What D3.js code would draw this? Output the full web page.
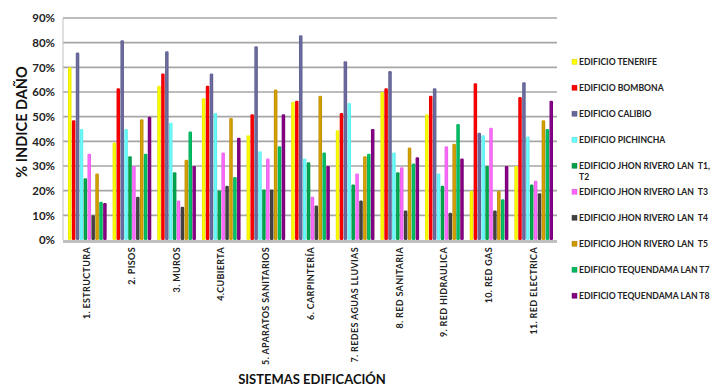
<!DOCTYPE html>
<html>
<head>
<meta charset="utf-8">
<script src="https://cdn.jsdelivr.net/npm/d3@7"></script>
<style>
  html, body { margin: 0; padding: 0; background: #fff; }
  svg { display: block; font-family: Lato, "Open Sans", sans-serif; font-weight: 700; }
</style>
</head>
<body>
<svg id="chart" width="722" height="387"></svg>
<script>
// Building systems evaluated
const categories = [
  "1. ESTRUCTURA", "2. PISOS", "3. MUROS", "4.CUBIERTA", "5. APARATOS SANITARIOS",
  "6. CARPINTERÍA", "7. REDES AGUAS LLUVIAS", "8. RED SANITARIA", "9. RED HIDRAULICA",
  "10. RED GAS", "11. RED ELECTRICA"
];

// Buildings (legend entries)
const seriesNames = [
  "EDIFICIO TENERIFE", "EDIFICIO BOMBONA", "EDIFICIO CALIBIO", "EDIFICIO PICHINCHA",
  "EDIFICIO JHON RIVERO LAN  T1, T2", "EDIFICIO JHON RIVERO LAN  T3",
  "EDIFICIO JHON RIVERO LAN  T4", "EDIFICIO JHON RIVERO LAN  T5",
  "EDIFICIO TEQUENDAMA LAN T7", "EDIFICIO TEQUENDAMA LAN T8"
];

// Damage index (%) per building, one value per system
const tenerife    = [70, 39.5, 62.5, 57.5, 42.5, 56, 44.5, 60, 51, 20, 30];
const bombona     = [48.5, 61.5, 67.5, 62.5, 51, 56.5, 51.5, 61.5, 58.5, 63.5, 58];
const calibio     = [76, 81, 76.5, 67.5, 78.5, 83, 72.5, 68.5, 61.5, 43.5, 64];
const pichincha   = [45, 45, 47.5, 51.5, 36, 33, 55.5, 35.5, 27, 42.5, 42];
const jhonT1T2    = [25, 34, 27.5, 20, 20.5, 31.5, 22.5, 27.5, 22, 30, 22.5];
const jhonT3      = [35, 30, 16, 35.5, 33, 17.5, 27, 29.5, 38, 45.5, 24];
const jhonT4      = [10, 17.5, 13.5, 22, 20.5, 14, 16, 12, 11, 12, 19];
const jhonT5      = [27, 49, 32.5, 49.5, 61, 58.5, 34, 37.5, 39, 20, 48.5];
const tequendaT7  = [15.5, 35, 44, 25.5, 38, 35.5, 35, 31, 47, 16.5, 45];
const tequendaT8  = [15, 50, 30, 41.5, 51, 30, 45, 33.5, 33, 30, 56.5];

const seriesValues = [tenerife, bombona, calibio, pichincha, jhonT1T2, jhonT3, jhonT4, jhonT5, tequendaT7, tequendaT8];

const colors = ["#FFFF00", "#FF0000", "#666699", "#66FFFF", "#00A04A",
                "#FF66FF", "#404040", "#CC9900", "#00B860", "#800080"];

const yTicks = [0, 10, 20, 30, 40, 50, 60, 70, 80, 90];

const svg = d3.select("#chart");

const plot = { left: 63, right: 557, top: 18, bottom: 240 };

const x0 = d3.scaleBand()
  .domain(categories)
  .range([65, 556])
  .paddingInner(0.125)
  .paddingOuter(0.0625);

const x1 = d3.scaleBand()
  .domain(d3.range(seriesNames.length))
  .range([0, x0.bandwidth()])
  .padding(0);

const y = d3.scaleLinear().domain([0, 90]).range([plot.bottom, plot.top]);

// Shading for the column faces
const defs = svg.append("defs");
colors.forEach((c, i) => {
  const g = defs.append("linearGradient").attr("id", "shade" + i)
    .attr("x1", "0%").attr("x2", "100%").attr("y1", "0%").attr("y2", "0%");
  const base = d3.color(c);
  g.append("stop").attr("offset", "0%").attr("stop-color", base.darker(0.35));
  g.append("stop").attr("offset", "40%").attr("stop-color", base.brighter(0.2));
  g.append("stop").attr("offset", "100%").attr("stop-color", base.darker(0.25));
});

// Gridlines
svg.append("g")
  .selectAll("line")
  .data(yTicks.filter(d => d > 0))
  .join("line")
  .attr("x1", plot.left).attr("x2", plot.right)
  .attr("y1", d => y(d)).attr("y2", d => y(d))
  .attr("stroke", "#A6A6A6").attr("stroke-width", 1.6);

// Floor
svg.append("line")
  .attr("x1", plot.left).attr("x2", plot.right)
  .attr("y1", y(0) + 1.5).attr("y2", y(0) + 1.5)
  .attr("stroke", "#BFBFBF").attr("stroke-width", 3);

// Left wall edge
svg.append("line")
  .attr("x1", plot.left).attr("x2", plot.left)
  .attr("y1", y(90)).attr("y2", y(0))
  .attr("stroke", "#BFBFBF").attr("stroke-width", 1);

// Columns
const groups = svg.append("g")
  .selectAll("g")
  .data(categories)
  .join("g")
  .attr("transform", d => `translate(${x0(d)},0)`);

groups.selectAll("rect")
  .data((d, ci) => seriesValues.map((vals, si) => ({ si, v: vals[ci] })))
  .join("rect")
  .attr("x", d => x1(d.si) + 0.2)
  .attr("width", x1.bandwidth() - 0.4)
  .attr("y", d => y(d.v))
  .attr("height", d => y(0) - y(d.v))
  .attr("rx", 1.2)
  .attr("fill", d => `url(#shade${d.si})`);

// Y axis labels
const yAxis = d3.axisLeft(y).tickValues(yTicks).tickFormat(d => d + "%").tickSize(0).tickPadding(0);
const ya = svg.append("g").attr("transform", "translate(55,0)").call(yAxis);
ya.select(".domain").remove();
ya.selectAll("text")
  .attr("font-family", "Lato, sans-serif")
  .attr("font-weight", 700)
  .attr("font-size", 11.5)
  .attr("fill", "#222");

// X category labels (vertical)
const xAxis = d3.axisBottom(x0).tickSize(0).tickPadding(0);
const xa = svg.append("g").attr("transform", `translate(0,${plot.bottom})`).call(xAxis);
xa.select(".domain").remove();
xa.selectAll("text")
  .attr("font-family", "Lato, sans-serif")
  .attr("font-weight", 700)
  .attr("font-size", 9)
  .attr("letter-spacing", 0.35)
  .attr("fill", "#222")
  .attr("text-anchor", "end")
  .attr("dy", null)
  .attr("y", 0)
  .attr("transform", "translate(3,7) rotate(-90)");

// Axis titles
svg.append("text")
  .attr("transform", "translate(27,122) rotate(-90)")
  .attr("text-anchor", "middle")
  .attr("font-size", 14.5)
  .attr("fill", "#111")
  .text("% INDICE DAÑO");

svg.append("text")
  .attr("x", 312).attr("y", 384)
  .attr("text-anchor", "middle")
  .attr("font-size", 13)
  .attr("fill", "#111")
  .text("SISTEMAS EDIFICACIÓN");

// Legend
const legend = svg.append("g");
seriesNames.forEach((name, i) => {
  const cy = 61.7 + i * 26;
  const row = legend.append("g").attr("transform", `translate(572,${cy})`);
  row.append("rect")
    .attr("x", 0).attr("y", -2.5).attr("width", 5).attr("height", 5)
    .attr("fill", colors[i]).attr("stroke", d3.color(colors[i]).darker(0.6)).attr("stroke-width", 0.5);
  const lines = name === "EDIFICIO JHON RIVERO LAN  T1, T2"
    ? ["EDIFICIO JHON RIVERO LAN  T1,", "T2"] : [name];
  lines.forEach((ln, li) => {
    row.append("text")
      .attr("x", 7).attr("y", li * 11.7)
      .attr("dy", "0.35em")
      .attr("font-size", 8.6)
      .attr("fill", "#222")
      .style("white-space", "pre")
      .text(ln);
  });
});
</script>
</body>
</html>
